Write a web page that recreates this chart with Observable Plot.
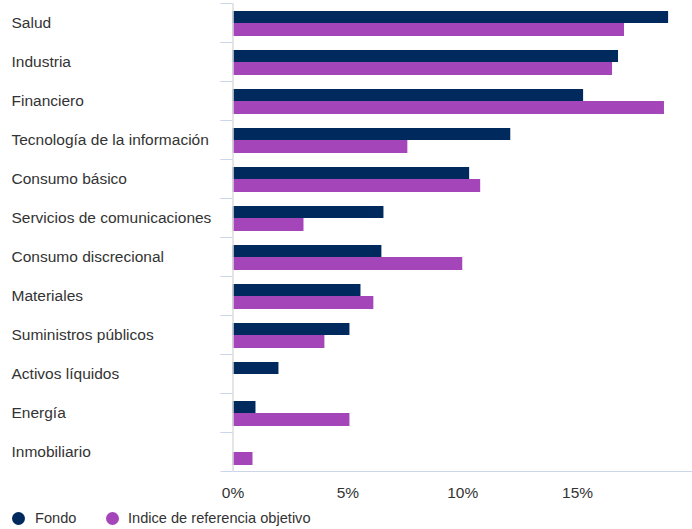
<!DOCTYPE html>
<html>
<head>
<meta charset="utf-8">
<script src="https://cdn.jsdelivr.net/npm/d3@7"></script>
<script src="https://cdn.jsdelivr.net/npm/@observablehq/plot@0.6"></script>
<style>
  body { margin: 0; background: #fff; font-family: "Liberation Sans", Arial, sans-serif; }
  #legend { position: relative; height: 24px; font-size: 14.6px; color: #333; }
  .item { display: flex; align-items: center; }
  .dot { width: 13px; height: 13px; border-radius: 50%; display: inline-block; }
</style>
</head>
<body>
<div id="chart"></div>
<div id="legend"></div>
<script>
const categories = ["Salud", "Industria", "Financiero", "Tecnología de la información", "Consumo básico", "Servicios de comunicaciones", "Consumo discrecional", "Materiales", "Suministros públicos", "Activos líquidos", "Energía", "Inmobiliario"];
const fondo = [18.96, 16.78, 15.26, 12.09, 10.3, 6.57, 6.48, 5.57, 5.09, 2.0, 1.0, 0];
const indice = [17.04, 16.52, 18.78, 7.61, 10.78, 3.09, 10.0, 6.13, 4.0, 0, 5.09, 0.87];
const seriesNames = ["Fondo", "Indice de referencia objetivo"];
const colors = ["#00295d", "#a446b9"];
const xTicks = [0, 5, 10, 15];

const rowsFondo = categories.map((c, i) => ({cat: c, value: fondo[i]}));
const rowsIndice = categories.map((c, i) => ({cat: c, value: indice[i]}));

const chart = Plot.plot({
  width: 692,
  height: 505,
  marginTop: 3,
  marginBottom: 34,
  marginLeft: 232.5,
  marginRight: 0,
  style: {fontFamily: "'Liberation Sans', Arial, sans-serif", fontSize: "15.5px", color: "#333"},
  x: {domain: [0, 20], label: null},
  y: {domain: categories, padding: 0, label: null},
  marks: [
    Plot.barX(rowsFondo, {y: "cat", x: "value", fill: colors[0], insetTop: 8, insetBottom: 19}),
    Plot.barX(rowsIndice, {y: "cat", x: "value", fill: colors[1], insetTop: 20, insetBottom: 6}),
    Plot.ruleX([0], {stroke: "#dcdcdc", strokeWidth: 1.5}),
    Plot.axisY({tickSize: 12, dy: -19.5, stroke: "#ccd6eb", tickFormat: () => "", label: null}),
    Plot.axisY({tickSize: 12, dy: 19.5, stroke: "#ccd6eb", tickFormat: () => "", label: null}),
    Plot.axisY({tickSize: 0, tickPadding: 0, textAnchor: "start", dx: -221.5, fill: "#333", fontSize: 15.5, label: null}),
    Plot.ruleY([categories[categories.length - 1]], {dy: 19.5, stroke: "#ccd6eb"}),
    Plot.axisX({ticks: xTicks, tickSize: 0, tickPadding: 15, tickFormat: d => d + "%", fill: "#333", fontSize: 15.5, label: null})
  ]
});
document.getElementById("chart").appendChild(chart);

const legend = document.getElementById("legend");
const lefts = [12, 106];
const gaps = [10, 9];
seriesNames.forEach((name, i) => {
  const item = document.createElement("div");
  item.className = "item";
  item.style.position = "absolute";
  item.style.left = lefts[i] + "px";
  item.style.top = "0px";
  item.style.height = "26px";
  const dot = document.createElement("span");
  dot.className = "dot";
  dot.style.background = colors[i];
  dot.style.marginRight = gaps[i] + "px";
  const label = document.createElement("span");
  label.textContent = name;
  item.appendChild(dot);
  item.appendChild(label);
  legend.appendChild(item);
});
</script>
</body>
</html>
